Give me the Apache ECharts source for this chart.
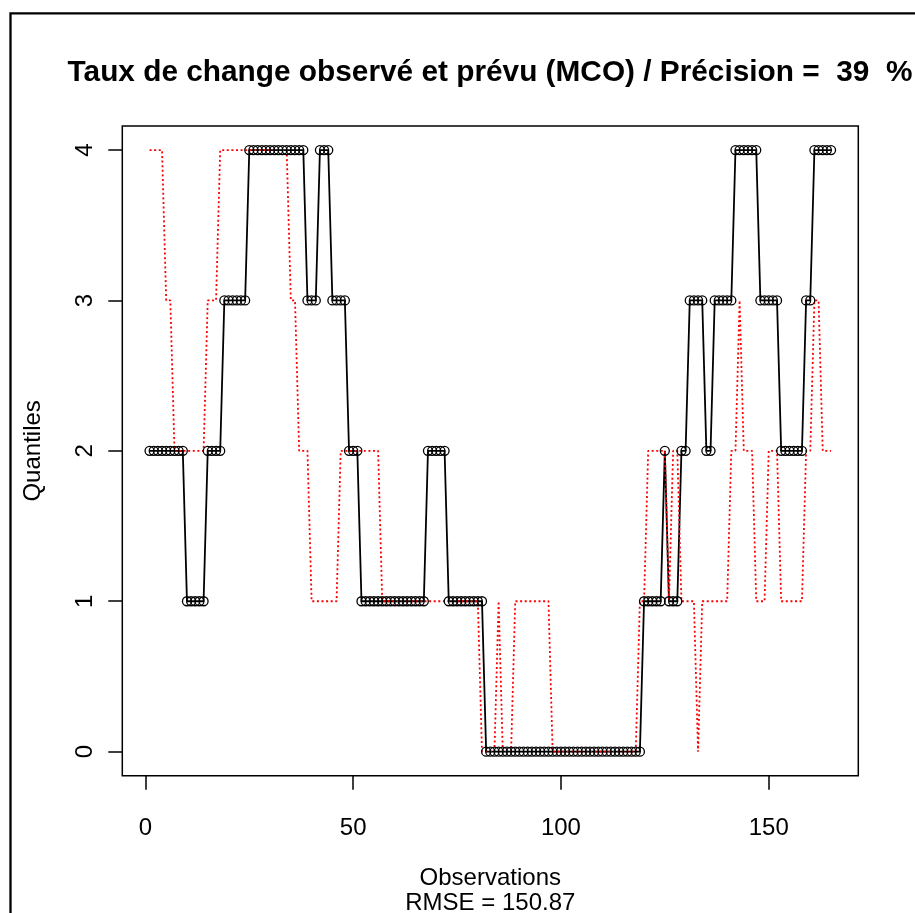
<!DOCTYPE html>
<html>
<head>
<meta charset="utf-8">
<script src="https://cdn.jsdelivr.net/npm/echarts@6/dist/echarts.min.js"></script>
<style>
html,body{margin:0;padding:0;background:#fff;}
#chart{width:915px;height:913px;}
</style>
</head>
<body>
<div id="chart"></div>
<script>
// quantile class of the observed rate, observations 1..165
var observed=[
 2,2,2,2,2,2,2,2,2,1,
 1,1,1,1,2,2,2,2,3,3,
 3,3,3,3,4,4,4,4,4,4,
 4,4,4,4,4,4,4,4,3,3,
 3,4,4,4,3,3,3,3,2,2,
 2,1,1,1,1,1,1,1,1,1,
 1,1,1,1,1,1,1,2,2,2,
 2,2,1,1,1,1,1,1,1,1,
 1,0,0,0,0,0,0,0,0,0,
 0,0,0,0,0,0,0,0,0,0,
 0,0,0,0,0,0,0,0,0,0,
 0,0,0,0,0,0,0,0,0,1,
 1,1,1,1,2,1,1,1,2,2,
 3,3,3,3,2,2,3,3,3,3,
 3,4,4,4,4,4,4,3,3,3,
 3,3,2,2,2,2,2,2,3,3,
 4,4,4,4,4
];
// quantile class predicted by MCO
var predicted=[
 4,4,4,4,3,3,2,2,2,2,
 2,2,2,2,3,3,3,4,4,4,
 4,4,4,4,4,4,4,4,4,4,
 4,4,4,4,3,3,2,2,2,1,
 1,1,1,1,1,1,2,2,2,2,
 2,2,2,2,2,2,1,1,1,1,
 1,1,1,1,1,1,1,1,1,1,
 1,1,1,1,1,1,1,1,1,1,
 0,0,0,0,1,0,0,0,1,1,
 1,1,1,1,1,1,1,0,0,0,
 0,0,0,0,0,0,0,0,0,0,
 0,0,0,0,0,0,0,0,1,1,
 2,2,2,2,2,1,2,2,1,1,
 1,1,0,1,1,1,1,1,1,1,
 2,2,3,2,2,2,1,1,1,2,
 2,2,1,1,1,1,1,1,2,2,
 3,3,2,2,2
];
var xTicks=[0,50,100,150];
var yTicks=[0,1,2,3,4];
var titleText='Taux de change observé et prévu (MCO) / Précision =  39  %';
var xName='Observations';
var xName2='RMSE = 150.87';
var yName='Quantiles';

var chart=echarts.init(document.getElementById('chart'));
var font='"Liberation Sans", Arial, Helvetica, sans-serif';

function pairs(arr){
    return arr.map(function(v,i){return [i+1,v];});
}
// R style axis range: data range plus 4% each side
var n=observed.length;
var xmin=1-(n-1)*0.04, xmax=n+(n-1)*0.04;
var ymin=0-4*0.04, ymax=4+4*0.04;

var option={
    animation:false,
    backgroundColor:'#fff',
    title:{
        text:titleText,
        left:490,
        top:58,
        padding:0,
        textAlign:'center',
        textStyle:{fontSize:29.8,fontWeight:'bold',color:'#000',fontFamily:font}
    },
    graphic:[{
        type:'rect',
        silent:true,
        shape:{x:10.5,y:13.3,width:1200,height:1200},
        style:{fill:'none',stroke:'#000',lineWidth:2.3}
    }],
    grid:{
        left:122.3,right:56.7,top:126,bottom:137.3,
        containLabel:false,
        outerBoundsMode:'none',
        show:true,borderColor:'#000',borderWidth:1.5,backgroundColor:'transparent'
    },
    xAxis:{
        type:'value',min:xmin,max:xmax,
        axisLine:{show:false,onZero:false},
        splitLine:{show:false},
        axisTick:{show:true,inside:false,length:14,customValues:xTicks,lineStyle:{color:'#000',width:1.5}},
        axisLabel:{customValues:xTicks,margin:41,fontSize:24,color:'#000',fontFamily:font},
        name:xName+'\n'+xName2,
        nameLocation:'middle',
        nameGap:90,
        nameTextStyle:{fontSize:24,color:'#000',fontFamily:font,lineHeight:25}
    },
    yAxis:{
        type:'value',min:ymin,max:ymax,
        axisLine:{show:false,onZero:false},
        splitLine:{show:false},
        axisTick:{show:true,inside:false,length:14,customValues:yTicks,lineStyle:{color:'#000',width:1.5}},
        axisLabel:{customValues:yTicks,rotate:90,margin:25,fontSize:24,color:'#000',fontFamily:font},
        name:yName,
        nameLocation:'middle',
        nameRotate:90,
        nameGap:77,
        nameTextStyle:{fontSize:24,color:'#000',fontFamily:font}
    },
    series:[{
        type:'line',
        silent:true,
        data:pairs(observed),
        symbol:'circle',
        symbolSize:9,
        showAllSymbol:true,
        itemStyle:{color:'rgba(0,0,0,0)',borderColor:'#000',borderWidth:1.3},
        lineStyle:{color:'#000',width:1.8}
    },{
        type:'line',
        silent:true,
        data:pairs(predicted),
        symbol:'none',
        lineStyle:{color:'#ff0000',width:1.8,type:[2,2.6]}
    }]
};
chart.setOption(option);
</script>
</body>
</html>
